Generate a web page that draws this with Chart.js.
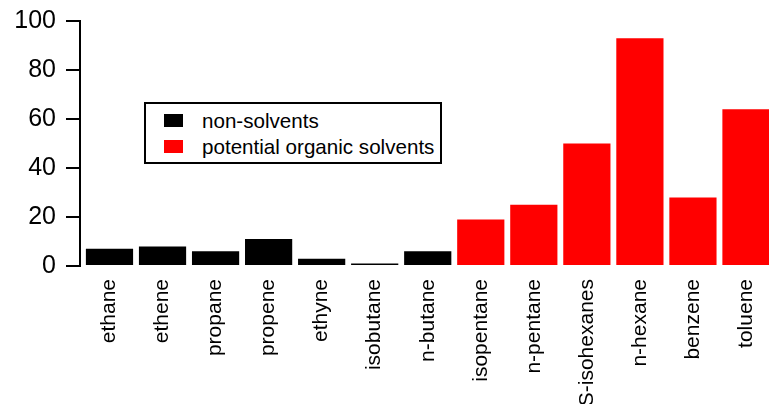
<!DOCTYPE html>
<html>
<head>
<meta charset="utf-8">
<script src="https://cdn.jsdelivr.net/npm/chart.js@4.4.1/dist/chart.umd.min.js"></script>
<style>
  html, body { margin: 0; padding: 0; background: #fff; }
  #wrap { position: relative; width: 769px; height: 404px; overflow: hidden; }
  #legend {
    position: absolute; left: 144px; top: 102px; width: 294px; height: 58px;
    border: 2px solid #000; background: #fff;
    font-family: "Liberation Sans", Arial, sans-serif; font-size: 20.6px; color: #000;
  }
  .item { position: absolute; left: 18px; height: 24px; line-height: 24px; white-space: nowrap; }
  .item span.sw { position: absolute; left: 0; top: 5px; width: 19px; height: 13px; }
  .item span.tx { position: absolute; left: 38px; top: 0; }
</style>
</head>
<body>
<div id="wrap">
  <canvas id="grafik" width="769" height="404"></canvas>
  <div id="legend"></div>
</div>
<script>
// veriler
const kategoriler = ["ethane", "ethene", "propane", "propene", "ethyne", "isobutane", "n-butane",
  "isopentane", "n-pentane", "S-isohexanes", "n-hexane", "benzene", "toluene"];
const nonSolvents = [7, 8, 6, 11, 3, 1, 6];
const solvents = [19, 25, 50, 93, 28, 64];
const yTicks = [0, 20, 40, 60, 80, 100];

const fontAile = "'Liberation Sans', Arial, sans-serif";

// grafik için {x, y} noktaları
const nonSolventPts = nonSolvents.map((v, i) => ({ x: i, y: v }));
const solventPts = solvents.map((v, i) => ({ x: nonSolvents.length + i, y: v }));

const chart = new Chart(document.getElementById("grafik").getContext("2d"), {
  type: "bar",
  data: {
    datasets: [
      { label: "non-solvents", data: nonSolventPts, backgroundColor: "#000000" },
      { label: "potential organic solvents", data: solventPts, backgroundColor: "#ff0000" },
    ],
  },
  options: {
    responsive: false,
    animation: false,
    devicePixelRatio: 1,
    layout: { padding: { top: 21, left: 0, right: 0, bottom: 0 } },
    datasets: { bar: { grouped: false, barPercentage: 0.89, categoryPercentage: 1 } },
    plugins: { legend: { display: false }, tooltip: { enabled: false } },
    scales: {
      x: {
        type: "linear",
        offset: false,
        min: -0.556,
        max: 12.434,
        grid: { display: false },
        border: { display: false },
        ticks: {
          stepSize: 1,
          includeBounds: false,
          autoSkip: false,
          minRotation: 90,
          maxRotation: 90,
          padding: 5,
          color: "#000",
          font: { family: fontAile, size: 21 },
          callback: (v) => kategoriler[v] ?? "",
        },
        afterFit: (s) => { s.height = 138; s.paddingLeft = 0; s.paddingRight = 0; },
      },
      y: {
        min: 0,
        max: 100,
        afterBuildTicks: (s) => { s.ticks = yTicks.map((v) => ({ value: v })); },
        grid: { drawOnChartArea: false, drawTicks: true, tickLength: 14, color: "#000", lineWidth: 2 },
        border: { display: true, color: "#000", width: 2 },
        ticks: {
          padding: 10,
          color: "#000",
          font: { family: fontAile, size: 25 },
        },
        afterFit: (s) => { s.width = 80; s.paddingTop = 0; s.paddingBottom = 0; },
      },
    },
  },
});

// lejant (HTML)
const legendEl = document.getElementById("legend");
chart.data.datasets.forEach((ds, i) => {
  const item = document.createElement("div");
  item.className = "item";
  item.style.top = (5 + i * 26) + "px";
  item.innerHTML = `<span class="sw" style="background:${ds.backgroundColor}"></span><span class="tx">${ds.label}</span>`;
  legendEl.appendChild(item);
});
</script>
</body>
</html>
